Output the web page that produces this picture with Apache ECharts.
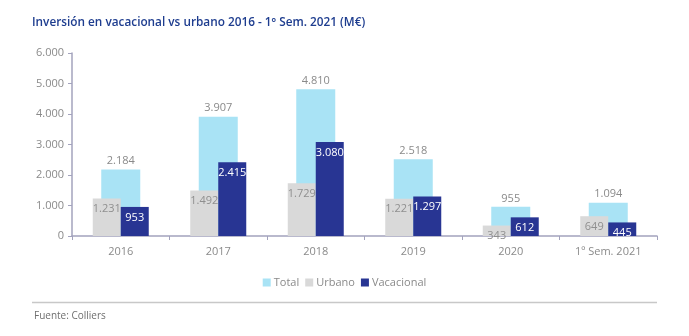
<!DOCTYPE html>
<html>
<head>
<meta charset="utf-8">
<script src="https://cdn.jsdelivr.net/npm/echarts@6/dist/echarts.min.js"></script>
<style>
  html, body { margin: 0; padding: 0; background: #fff; }
  #chart { width: 689px; height: 336px; }
</style>
</head>
<body>
<div id="chart"></div>
<script>
// Inversión hotelera (M€): total, urbano y vacacional por periodo
const categories = ['2016', '2017', '2018', '2019', '2020', '1º Sem. 2021'];
const totalValues = [2184, 3907, 4810, 2518, 955, 1094];
const urbanoValues = [1231, 1492, 1729, 1221, 343, 649];
const vacacionalValues = [953, 2415, 3080, 1297, 612, 445];
const yTicks = { min: 0, max: 6000, interval: 1000 };

const fontFamily = '"Open Sans", "Noto Sans", sans-serif';
const fmt = v => String(Math.round(v)).replace(/\B(?=(\d{3})+(?!\d))/g, '.');

const chart = echarts.init(document.getElementById('chart'));
chart.setOption({
  animation: false,
  textStyle: { fontFamily },
  title: {
    text: 'Inversión en vacacional vs urbano 2016 - 1º Sem. 2021 (M€)',
    left: 27, top: 12,
    textStyle: { fontFamily, fontSize: 11.8, fontWeight: 600, color: '#1e3d8f' }
  },
  legend: {
    bottom: 43, left: 'center',
    itemWidth: 8, itemHeight: 8, itemGap: 6,
    icon: 'rect',
    textStyle: { fontFamily, fontSize: 11, color: '#8a8a8a', padding: [0, 0, 0, -2] },
    data: ['Total', 'Urbano', 'Vacacional']
  },
  grid: { left: 72, right: 32, top: 53, bottom: 100 },
  xAxis: [
    {
      type: 'category', data: categories,
      axisLine: { lineStyle: { color: '#a3a3bd', width: 1.5 } },
      axisTick: { show: true, alignWithLabel: false, length: 4, lineStyle: { color: '#a3a3bd' } },
      axisLabel: { color: '#8a8a8a', fontSize: 11, margin: 10 }
    },
    {
      type: 'category', data: categories, position: 'bottom',
      show: false
    }
  ],
  yAxis: {
    type: 'value', min: yTicks.min, max: yTicks.max, interval: yTicks.interval,
    axisLine: { show: true, lineStyle: { color: '#a3a3bd', width: 1.5 } },
    axisTick: { show: true, length: 4, lineStyle: { color: '#a3a3bd' } },
    splitLine: { show: false },
    axisLabel: { color: '#8a8a8a', fontSize: 11, margin: 8, formatter: fmt }
  },
  series: [
    {
      name: 'Total', type: 'bar', xAxisIndex: 0, data: totalValues,
      barWidth: 39, z: 1,
      itemStyle: { color: '#a9e3f5' },
      label: { show: true, position: 'top', distance: 3, color: '#8a8a8a', fontSize: 11, formatter: p => fmt(p.value) }
    },
    {
      name: 'Urbano', type: 'bar', xAxisIndex: 1, data: urbanoValues,
      barWidth: 28, barGap: '0%', z: 2,
      itemStyle: { color: '#d9d9d9' },
      label: { show: true, position: 'insideTop', distance: 5, color: '#8f8f8f', fontSize: 11, formatter: p => fmt(p.value) }
    },
    {
      name: 'Vacacional', type: 'bar', xAxisIndex: 1, data: vacacionalValues,
      barWidth: 28, barGap: '0%', z: 2,
      itemStyle: { color: '#283593' },
      label: { show: true, position: 'insideTop', distance: 5, color: '#ffffff', fontSize: 11, formatter: p => fmt(p.value) }
    }
  ],
  graphic: [
    {
      type: 'line', z: 10,
      shape: { x1: 32, y1: 302.5, x2: 657, y2: 302.5 },
      style: { stroke: '#c8c8c8', lineWidth: 1.5 }
    },
    {
      type: 'text', left: 34, top: 311,
      style: { text: 'Fuente: Colliers', fill: '#6f6f6f', font: '10px ' + fontFamily }
    }
  ]
});
</script>
</body>
</html>
